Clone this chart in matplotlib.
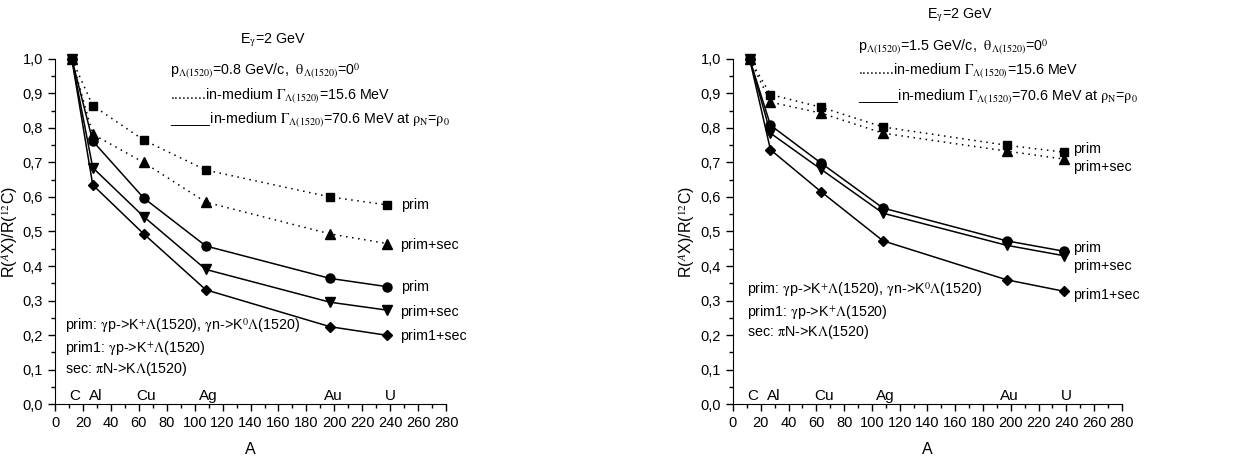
import matplotlib
matplotlib.use("Agg")
import matplotlib.pyplot as plt
from matplotlib.ticker import MultipleLocator, FuncFormatter

plt.rcParams["font.family"] = ["Liberation Sans", "DejaVu Sans"]
plt.rcParams["mathtext.fontset"] = "stix"
plt.rcParams["font.size"] = 10.5

# mass numbers of the targets
A = [12, 27, 63.5, 108, 197, 238]
elements = ["C", "Al", "Cu", "Ag", "Au", "U"]

# p = 0.8 GeV/c
left_prim_dot = [1.0, 0.865, 0.765, 0.678, 0.600, 0.577]
left_primsec_dot = [1.0, 0.782, 0.700, 0.585, 0.493, 0.465]
left_prim = [1.0, 0.762, 0.597, 0.458, 0.364, 0.340]
left_primsec = [1.0, 0.685, 0.543, 0.390, 0.295, 0.272]
left_prim1sec = [1.0, 0.635, 0.493, 0.331, 0.224, 0.199]

# p = 1.5 GeV/c
right_prim_dot = [1.0, 0.897, 0.860, 0.803, 0.750, 0.730]
right_primsec_dot = [1.0, 0.875, 0.843, 0.785, 0.733, 0.710]
right_prim = [1.0, 0.808, 0.698, 0.568, 0.473, 0.443]
right_primsec = [1.0, 0.785, 0.680, 0.553, 0.460, 0.430]
right_prim1sec = [1.0, 0.737, 0.615, 0.473, 0.360, 0.327]


def comma(v, pos):
    return ("%.1f" % v).replace(".", ",")


def setup_axes(ax, label_x):
    ax.set_xlim(0, 280)
    ax.set_ylim(0, 1.0)
    ax.spines["top"].set_visible(False)
    ax.spines["right"].set_visible(False)
    ax.xaxis.set_major_locator(MultipleLocator(20))
    ax.xaxis.set_minor_locator(MultipleLocator(10))
    ax.yaxis.set_major_locator(MultipleLocator(0.1))
    ax.yaxis.set_minor_locator(MultipleLocator(0.05))
    ax.yaxis.set_major_formatter(FuncFormatter(comma))
    ax.tick_params(which="major", direction="out", length=5, width=1, labelsize=10.5)
    ax.tick_params(which="minor", direction="out", length=3, width=1)
    ax.set_xlabel("A", fontsize=11.5, labelpad=9)
    ax.set_ylabel(r"R($^{A}$X)/R($^{12}$C)", fontsize=11.5)
    ax.yaxis.set_label_coords(label_x, 0.5)
    for x, name in zip(A, elements):
        ax.text(x + 2, 0.004, name, ha="center", va="bottom", fontsize=11)


def draw_series(ax, prim_dot, primsec_dot, prim, primsec, prim1sec):
    dot = dict(color="black", linestyle=(0, (1, 3)), linewidth=1.1, clip_on=False)
    sol = dict(color="black", linestyle="-", linewidth=1.1, clip_on=False)
    ax.plot(A, prim_dot, marker="s", markersize=6, **dot)
    ax.plot(A, primsec_dot, marker="^", markersize=7, **dot)
    ax.plot(A, prim1sec, marker="D", markersize=5.5, **sol)
    ax.plot(A, prim, marker="o", markersize=6.5, **sol)
    ax.plot(A, primsec, marker="v", markersize=7, **sol)


fig = plt.figure(figsize=(12.54, 4.63), dpi=100)
ax1 = fig.add_axes([0.0439, 0.1274, 0.3118, 0.7452])
ax2 = fig.add_axes([0.5845, 0.1274, 0.3102, 0.7452])

setup_axes(ax1, -0.09)
setup_axes(ax2, -0.092)

draw_series(ax1, left_prim_dot, left_primsec_dot, left_prim, left_primsec, left_prim1sec)
draw_series(ax2, right_prim_dot, right_primsec_dot, right_prim, right_primsec, right_prim1sec)

reactions = [
    r"prim: $\mathrm{\gamma}$p->K$^{+}\mathrm{\Lambda}$(1520), $\mathrm{\gamma}$n->K$^{0}\mathrm{\Lambda}$(1520)",
    r"prim1: $\mathrm{\gamma}$p->K$^{+}\mathrm{\Lambda}$(1520)",
    r"sec: $\mathrm{\pi}$N->K$\mathrm{\Lambda}$(1520)",
]
dot_line = r".........in-medium $\mathrm{\Gamma_{\Lambda(1520)}}$=15.6 MeV"
sol_line = r"_____in-medium $\mathrm{\Gamma_{\Lambda(1520)}}$=70.6 MeV at $\mathrm{\rho_N}$=$\mathrm{\rho_0}$"
energy = r"E$_{\mathrm{\gamma}}$=2 GeV"
fs = 10.3

# left panel annotations
ax1.text(156, 1.055, energy, ha="center", va="center", clip_on=False, fontsize=fs)
ax1.text(82, 0.965, r"p$_{\mathrm{\Lambda(1520)}}$=0.8 GeV/c,  $\mathrm{\theta_{\Lambda(1520)}}$=0$^{0}$",
         ha="left", va="center", fontsize=fs)
ax1.text(82, 0.893, dot_line, ha="left", va="center", fontsize=fs)
ax1.text(82, 0.823, sol_line, ha="left", va="center", fontsize=fs)
ax1.text(248, 0.577, "prim", ha="left", va="center", fontsize=fs)
ax1.text(247, 0.461, "prim+sec", ha="left", va="center", fontsize=fs)
ax1.text(248, 0.339, "prim", ha="left", va="center", fontsize=fs)
ax1.text(247, 0.267, "prim+sec", ha="left", va="center", fontsize=fs)
ax1.text(247, 0.197, "prim1+sec", ha="left", va="center", fontsize=fs)
for y, line in zip([0.226, 0.162, 0.101], reactions):
    ax1.text(7, y, line, ha="left", va="center", fontsize=fs)

# right panel annotations
ax2.text(163, 1.128, energy, ha="center", va="center", clip_on=False, fontsize=fs)
ax2.text(90, 1.035, r"p$_{\mathrm{\Lambda(1520)}}$=1.5 GeV/c,  $\mathrm{\theta_{\Lambda(1520)}}$=0$^{0}$",
         ha="left", va="center", clip_on=False, fontsize=fs)
ax2.text(90, 0.965, dot_line, ha="left", va="center", fontsize=fs)
ax2.text(90, 0.89, sol_line, ha="left", va="center", fontsize=fs)
ax2.text(245, 0.739, "prim", ha="left", va="center", fontsize=fs)
ax2.text(245, 0.687, "prim+sec", ha="left", va="center", fontsize=fs)
ax2.text(245, 0.452, "prim", ha="left", va="center", fontsize=fs)
ax2.text(245, 0.400, "prim+sec", ha="left", va="center", fontsize=fs)
ax2.text(245, 0.316, "prim1+sec", ha="left", va="center", fontsize=fs)
for y, line in zip([0.333, 0.267, 0.209], reactions):
    ax2.text(10, y, line, ha="left", va="center", fontsize=fs)

fig.savefig("out.png", dpi=100)
